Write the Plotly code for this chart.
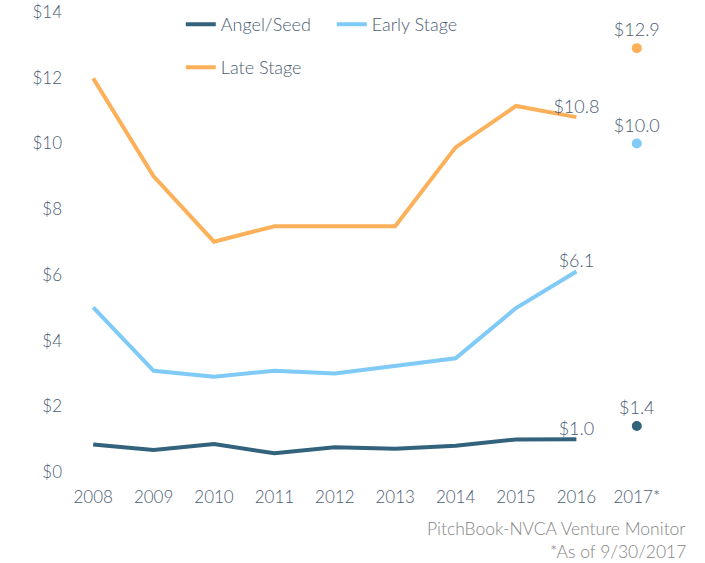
import plotly.graph_objects as go

years = ["2008", "2009", "2010", "2011", "2012", "2013", "2014", "2015", "2016"]
year_2017 = ["2017*"]
angel_seed = [0.84, 0.67, 0.85, 0.57, 0.75, 0.71, 0.80, 0.99, 1.0]
early_stage = [5.01, 3.08, 2.90, 3.08, 3.00, 3.23, 3.46, 4.99, 6.1]
late_stage = [11.98, 9.0, 7.01, 7.48, 7.48, 7.48, 9.88, 11.14, 10.8]
angel_2017 = [1.4]
early_2017 = [10.0]
late_2017 = [12.9]
y_ticks = [0, 2, 4, 6, 8, 10, 12, 14]

C_ANGEL = "#33627d"
C_EARLY = "#7fcaf6"
C_LATE = "#fdb05a"
TXT = "#4b5d73"
FONT = "Lato, 'Open Sans', sans-serif"

def last_label(vals):
    return [""] * (len(vals) - 1) + [f"${vals[-1]:.1f}"]

fig = go.Figure()
series = [
    ("Angel/Seed", angel_seed, angel_2017, C_ANGEL, "legend"),
    ("Early Stage", early_stage, early_2017, C_EARLY, "legend"),
    ("Late Stage", late_stage, late_2017, C_LATE, "legend2"),
]
for name, vals, v17, col, lg in series:
    fig.add_trace(go.Scatter(
        x=years, y=vals, name=name, mode="lines+text",
        line=dict(color=col, width=4),
        text=last_label(vals), textposition="top center",
        textfont=dict(color=TXT, size=18, family=FONT, weight=300),
        legend=lg, cliponaxis=False,
    ))
for name, vals, v17, col, lg in series:
    fig.add_trace(go.Scatter(
        x=year_2017, y=v17, mode="markers+text", showlegend=False,
        marker=dict(color=col, size=10),
        text=[f"${v:.1f}" for v in v17], textposition="top center",
        textfont=dict(color=TXT, size=18, family=FONT, weight=300), cliponaxis=False,
    ))

fig.update_layout(
    width=705, height=563,
    margin=dict(l=63, r=38, t=12, b=91, autoexpand=False),
    paper_bgcolor="white", plot_bgcolor="white",
    font=dict(family=FONT, color=TXT, size=17, weight=300),
    xaxis=dict(type="category", categoryorder="array",
               categoryarray=years + year_2017, range=[-0.5, 9.5],
               showgrid=False, zeroline=False, showline=False, ticks="",
               automargin=False, ticklabelstandoff=13,
               tickfont=dict(size=17, color=TXT, weight=300)),
    yaxis=dict(range=[0, 14], tickvals=y_ticks,
               ticktext=[f"${v}" for v in y_ticks],
               showgrid=False, zeroline=False, showline=False, ticks="",
               automargin=False,
               tickfont=dict(size=17, color=TXT, weight=300)),
    legend=dict(orientation="h", x=0.195, y=1.013, xanchor="left", yanchor="top",
                font=dict(size=18, color=TXT), bgcolor="rgba(0,0,0,0)",
                entrywidth=106, entrywidthmode="pixels", tracegroupgap=0),
    legend2=dict(orientation="h", x=0.195, y=0.9196, xanchor="left", yanchor="top",
                 font=dict(size=18, color=TXT), bgcolor="rgba(0,0,0,0)"),
    annotations=[
        dict(text="PitchBook-NVCA Venture Monitor", xref="paper", yref="paper",
             x=(688 - 63) / 604, y=(472 - 528) / 460, xanchor="right", yanchor="middle",
             showarrow=False, font=dict(size=17.5, color="#858585", family=FONT)),
        dict(text="*As of 9/30/2017", xref="paper", yref="paper",
             x=(688 - 63) / 604, y=(472 - 551) / 460, xanchor="right", yanchor="middle",
             showarrow=False, font=dict(size=17.5, color="#858585", family=FONT)),
    ],
)

fig.write_html("out.html", config={"displayModeBar": False},
               post_script="document.body.style.margin='0';")
